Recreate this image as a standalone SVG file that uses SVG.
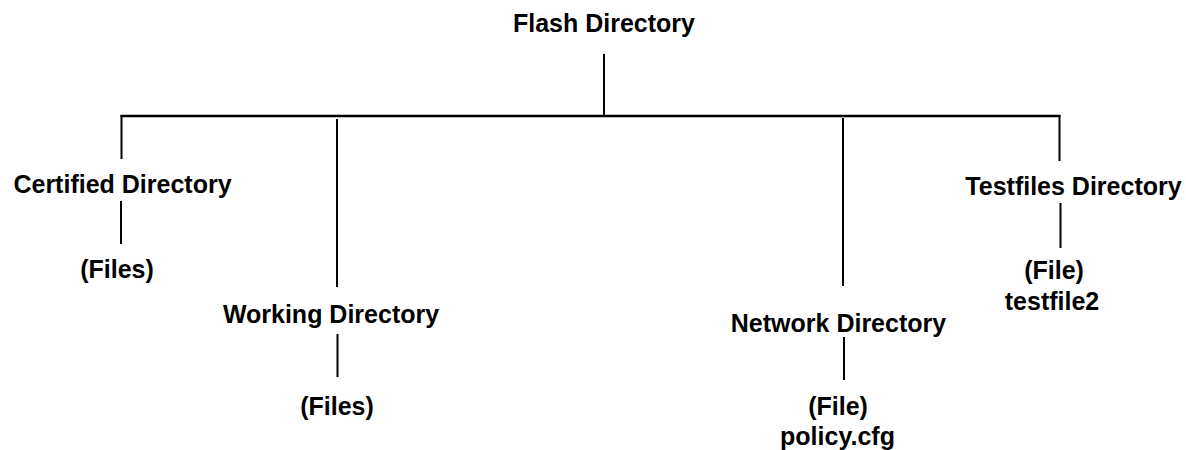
<svg xmlns="http://www.w3.org/2000/svg" width="1186" height="450" viewBox="0 0 1186 450">
<style>
.t{font-family:"Liberation Sans",Arial,sans-serif;font-weight:bold;font-size:25px;fill:#000;text-anchor:middle}
.c line{stroke:#000;stroke-width:2;fill:none}
</style>
<rect width="1186" height="450" fill="#fff"/>
<g id="connectors" class="c">
<line x1="604" y1="54" x2="604" y2="116"/>
<line x1="120.5" y1="116" x2="1060.5" y2="116" style="stroke-width:2.5"/>
<line x1="121.5" y1="115" x2="121.5" y2="159"/>
<line x1="337" y1="119" x2="337" y2="287"/>
<line x1="843" y1="118" x2="843" y2="286"/>
<line x1="1059.5" y1="115" x2="1059.5" y2="161"/>
<line x1="121" y1="201" x2="121" y2="244"/>
<line x1="337.5" y1="334" x2="337.5" y2="377"/>
<line x1="844" y1="337" x2="844" y2="380"/>
<line x1="1060.5" y1="203" x2="1060.5" y2="248"/>
</g>
<g id="flash"><text class="t" x="604" y="32">Flash Directory</text></g>
<g id="certified"><text class="t" x="122.5" y="193">Certified Directory</text></g>
<g id="certified-files"><text class="t" x="117" y="278">(Files)</text></g>
<g id="working"><text class="t" x="331" y="323">Working Directory</text></g>
<g id="working-files"><text class="t" x="337" y="415">(Files)</text></g>
<g id="network"><text class="t" x="838.5" y="332">Network Directory</text></g>
<g id="network-file"><text class="t" x="838" y="415">(File)</text><text class="t" x="837.5" y="445">policy.cfg</text></g>
<g id="testfiles"><text class="t" x="1073.5" y="195">Testfiles Directory</text></g>
<g id="testfiles-file"><text class="t" x="1054" y="279">(File)</text><text class="t" x="1052" y="310">testfile2</text></g>
</svg>
